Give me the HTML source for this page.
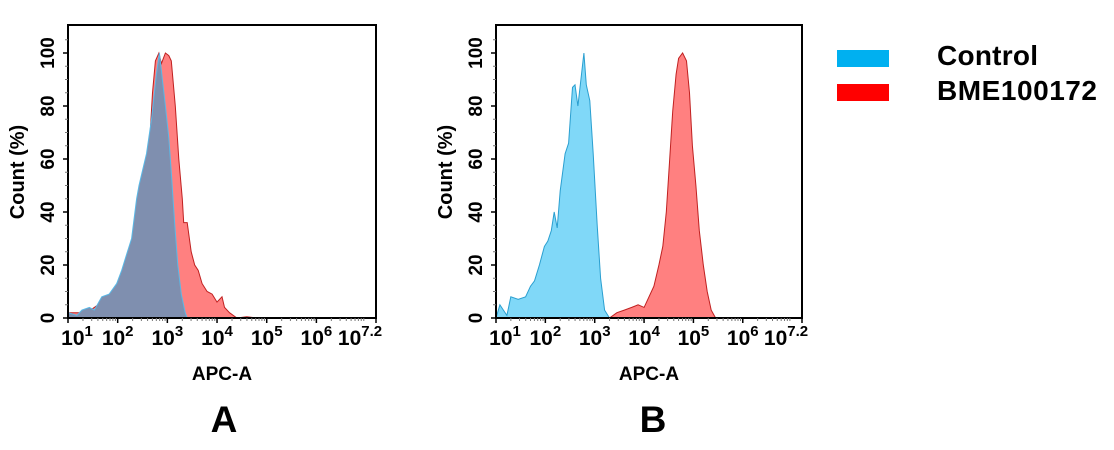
<!DOCTYPE html>
<html><head><meta charset="utf-8"><style>
html,body{margin:0;padding:0;background:#fff;}
svg{display:block;font-family:"Liberation Sans",Arial,sans-serif;font-weight:bold;}
</style></head><body>
<svg id="s" width="1114" height="450" viewBox="0 0 1114 450" xmlns="http://www.w3.org/2000/svg">
<rect width="1114" height="450" fill="#fff"/>
<rect x="837" y="50" width="52" height="17" fill="#00b0f0"/>
<rect x="837" y="84" width="52" height="17" fill="#ff0000"/>
<text x="937" y="65" font-size="28" textLength="101">Control</text>
<text x="937" y="100" font-size="28" textLength="160">BME100172</text>
<text x="224" y="432" font-size="37" text-anchor="middle">A</text>
<text x="653" y="432" font-size="37" text-anchor="middle">B</text>
<g id="pA"></g><g id="pB"></g>
</svg>
<script>
const NS="http://www.w3.org/2000/svg";
function el(p,t,a,txt){const e=document.createElementNS(NS,t);for(const k in a)e.setAttribute(k,a[k]);if(txt!==undefined)e.textContent=txt;p.appendChild(e);return e;}
function panel(g,x0,x1,series){
 const y0=318,y100=53,top=25;
 const X=l=>x0+(l-1)/6.2*(x1-x0), Y=v=>y0-(y0-y100)*v/100;
 series.forEach(s=>{
  let d="M"+X(s.pts[0][0])+","+y0;
  s.pts.forEach(p=>d+=" L"+X(p[0]).toFixed(1)+","+Y(p[1]).toFixed(1));
  d+=" L"+X(s.pts[s.pts.length-1][0])+","+y0+" Z";
  el(g,"path",{d:d,fill:s.fill,stroke:s.stroke,"stroke-width":1});
 });
 el(g,"rect",{x:x0,y:top,width:x1-x0,height:y0-top,fill:"none",stroke:"#000","stroke-width":2});
 for(let v=0;v<=100;v+=20){
  const y=Y(v);
  el(g,"line",{x1:x0-5,x2:x0,y1:y,y2:y,stroke:"#000","stroke-width":1.5});
  el(g,"text",{x:0,y:0,"font-size":19,"text-anchor":"middle",transform:`translate(${x0-14},${y}) rotate(-90)`},String(v));
 }
 for(let v=5;v<=105;v+=5){if(v%20)el(g,"line",{x1:x0-3,x2:x0,y1:Y(v),y2:Y(v),stroke:"#777","stroke-width":1});}
 el(g,"text",{x:0,y:0,"font-size":20,"text-anchor":"middle",transform:`translate(${x0-44},172) rotate(-90)`},"Count  (%)");
 const labs=[[1,"1"],[2,"2"],[3,"3"],[4,"4"],[5,"5"],[6,"6"],[7.2,"7.2"]];
 labs.forEach(([l,e])=>{
  const x=X(l);
  el(g,"line",{x1:x,x2:x,y1:y0,y2:y0+5,stroke:"#000","stroke-width":1.5});
  const t=el(g,"text",{x:x+(l==1?9:(l==7.2?-16:0)),y:345,"font-size":21,"text-anchor":"middle"});
  el(t,"tspan",{},"10");
  el(t,"tspan",{dy:-9,"font-size":15},e);
 });
 for(let d=1;d<7;d++)for(let k=2;k<10;k++){const l=d+Math.log10(k);if(l<7.2){const x=X(l);el(g,"line",{x1:x,x2:x,y1:y0,y2:y0+3,stroke:"#777","stroke-width":1});}}
 el(g,"text",{x:(x0+x1)/2,y:380,"font-size":19,"text-anchor":"middle"},"APC-A");
}
const sh=a=>a.map(([l,v])=>[l<3.3&&l>1?l+0.08:l,v]);
const redA=sh([[1,2],[1.3,2],[1.6,6],[1.9,10],[2.05,15],[2.2,25],[2.35,45],[2.5,57],[2.55,62],[2.62,85],[2.68,97],[2.75,100],[2.8,96],[2.88,100],[2.95,99],[3.0,97],[3.08,80],[3.15,60],[3.22,45]]).concat([[3.33,36],[3.4,36],[3.48,25],[3.55,20],[3.62,18],[3.7,13],[3.8,10],[3.9,9],[4.0,6],[4.1,8],[4.15,4],[4.25,2],[4.4,0],[4.6,0.5],[4.8,0]]);
const blueA=sh([[1,2],[1.1,1],[1.2,3],[1.35,4],[1.45,3],[1.6,8],[1.75,9],[1.9,13],[2.0,18],[2.1,24],[2.2,30],[2.3,45],[2.35,50],[2.45,58],[2.5,62],[2.6,75],[2.7,92],[2.76,100],[2.82,90],[2.88,80],[2.95,68],[3.0,55],[3.07,35],[3.13,20],[3.2,9],[3.28,2]]).concat([[3.4,0]]);
const blueB=[[1,0],[1.08,5],[1.15,3],[1.22,1],[1.3,8],[1.45,7],[1.6,8],[1.7,12],[1.78,14],[1.88,20],[1.98,27],[2.05,29],[2.12,33],[2.18,40],[2.24,34],[2.3,48],[2.4,62],[2.47,66],[2.55,87],[2.6,88],[2.66,80],[2.72,90],[2.78,100],[2.83,88],[2.9,82],[2.97,62],[3.05,35],[3.12,15],[3.2,3],[3.3,0]];
const redB=[[3.3,0],[3.45,2],[3.6,3],[3.75,4],[3.88,5],[4.0,4],[4.1,8],[4.2,12],[4.3,20],[4.38,27],[4.45,40],[4.52,60],[4.58,78],[4.65,92],[4.7,98],[4.78,100],[4.86,97],[4.92,85],[4.98,65],[5.05,50],[5.12,33],[5.2,20],[5.28,10],[5.36,3],[5.45,0]];
panel(document.getElementById("pA"),68,376,[
 {pts:redA,fill:"#ff8080",stroke:"#c02020"},
 {pts:blueA,fill:"#7f8faf",stroke:"#5ab8e6"}]);
panel(document.getElementById("pB"),496,802,[
 {pts:blueB,fill:"#80d8f8",stroke:"#2a9fd0"},
 {pts:redB,fill:"#ff8080",stroke:"#c02020"}]);
</script>
</body></html>
